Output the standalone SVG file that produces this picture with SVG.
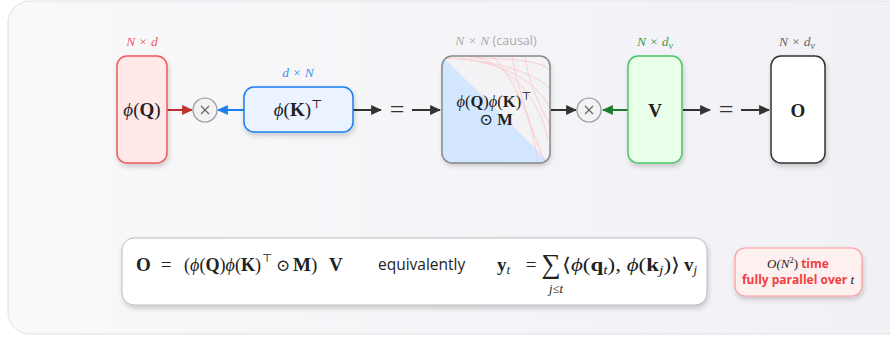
<svg xmlns="http://www.w3.org/2000/svg" width="890" height="337" viewBox="0 0 890 337">
<defs>
<linearGradient id="bg" x1="0" y1="0" x2="1" y2="0">
<stop offset="0" stop-color="#f9f9fb"/><stop offset="1" stop-color="#f1f0f5"/>
</linearGradient>
<filter id="sh" x="-20%" y="-20%" width="140%" height="150%">
<feDropShadow dx="1" dy="3" stdDeviation="2.5" flood-color="#000" flood-opacity="0.18"/>
</filter>
<clipPath id="mclip"><rect x="442" y="56" width="108" height="107" rx="10"/></clipPath>
<marker id="aDark" viewBox="0 0 10 10" refX="9" refY="5" markerWidth="11" markerHeight="11" markerUnits="userSpaceOnUse" orient="auto"><path d="M0,0.5 L10,5 L0,9.5 z" fill="#333"/></marker>
<marker id="aRed" viewBox="0 0 10 10" refX="9" refY="5" markerWidth="11" markerHeight="11" markerUnits="userSpaceOnUse" orient="auto"><path d="M0,0.5 L10,5 L0,9.5 z" fill="#c0302a"/></marker>
<marker id="aBlue" viewBox="0 0 10 10" refX="9" refY="5" markerWidth="11" markerHeight="11" markerUnits="userSpaceOnUse" orient="auto"><path d="M0,0.5 L10,5 L0,9.5 z" fill="#1a7ff0"/></marker>
<marker id="aGreen" viewBox="0 0 10 10" refX="9" refY="5" markerWidth="11" markerHeight="11" markerUnits="userSpaceOnUse" orient="auto"><path d="M0,0.5 L10,5 L0,9.5 z" fill="#1e7a2e"/></marker>
</defs>
<style>
.m{font-family:"Liberation Serif","DejaVu Serif",serif;fill:#222}
.b{font-weight:bold}
.i{font-style:italic}
.dim{font-family:"Liberation Serif","DejaVu Serif",serif;font-style:italic;font-size:13.5px;text-anchor:middle}
.sans{font-family:"Open Sans","Liberation Sans",sans-serif}
.ln{stroke-width:2;fill:none}
.eq{font-family:"Liberation Serif",serif;font-size:26px;fill:#333;text-anchor:middle}
.op{fill:#f2f2f5;stroke:#999;stroke-width:1.2}
.opx{stroke:#666;stroke-width:1.2}
</style>
<rect x="8" y="1" width="900" height="333" rx="22" fill="url(#bg)" stroke="#e0e0e4" stroke-width="1"/>

<g id="connectors">
<line class="ln" x1="167" y1="110" x2="192" y2="110" stroke="#c0302a" marker-end="url(#aRed)"/>
<line class="ln" x1="244" y1="110" x2="218" y2="110" stroke="#1a7ff0" marker-end="url(#aBlue)"/>
<line class="ln" x1="353" y1="110" x2="381" y2="110" stroke="#333" marker-end="url(#aDark)"/>
<text class="eq" x="397" y="118">=</text>
<line class="ln" x1="412" y1="110" x2="440" y2="110" stroke="#333" marker-end="url(#aDark)"/>
<line class="ln" x1="551" y1="110" x2="576" y2="110" stroke="#333" marker-end="url(#aDark)"/>
<line class="ln" x1="628" y1="110" x2="603" y2="110" stroke="#1e7a2e" marker-end="url(#aGreen)"/>
<line class="ln" x1="683" y1="110" x2="710" y2="110" stroke="#333" marker-end="url(#aDark)"/>
<text class="eq" x="726" y="118">=</text>
<line class="ln" x1="741" y1="110" x2="769" y2="110" stroke="#333" marker-end="url(#aDark)"/>
</g>

<g id="op1">
<circle class="op" cx="205" cy="110" r="12"/>
<path class="opx" d="M201 106 L209 114 M209 106 L201 114"/>
</g>
<g id="op2">
<circle class="op" cx="589" cy="110" r="12"/>
<path class="opx" d="M585 106 L593 114 M593 106 L585 114"/>
</g>

<g id="Q">
<text class="dim" x="142" y="46" fill="#f05a5a">N × d</text>
<rect x="117" y="56" width="50" height="107" rx="10" fill="#ffe8e8" stroke="#f05a5a" stroke-width="1.5" filter="url(#sh)"/>
<text class="m" x="142" y="116" font-size="19" text-anchor="middle"><tspan class="i">ϕ</tspan>(<tspan class="b">Q</tspan>)</text>
</g>

<g id="K">
<text class="dim" x="298" y="77" fill="#3a8ef0">d × N</text>
<rect x="244" y="87" width="109" height="45" rx="10" fill="#eaf3ff" stroke="#1a7ff0" stroke-width="1.5" filter="url(#sh)"/>
<text class="m" x="298" y="116" font-size="19" text-anchor="middle"><tspan class="i">ϕ</tspan>(<tspan class="b">K</tspan>)<tspan dy="-8" font-size="12">⊤</tspan></text>
</g>

<g id="A">
<text class="dim" x="496" y="45" fill="#aaa">N × N <tspan class="sans" font-style="normal" font-size="12.5">(causal)</tspan></text>
<rect x="442" y="56" width="108" height="107" rx="10" fill="#f3f3f6" filter="url(#sh)"/>
<g clip-path="url(#mclip)">
<path d="M442 56 L550 163 L442 163 Z" fill="#d2e6ff"/>
<g stroke="#fbc9c9" stroke-width="0.9" fill="none">
<path d="M446 58 Q 520 62 550 88"/>
<path d="M460 58 Q 530 68 550 108"/>
<path d="M478 57 Q 536 80 548 140"/>
<path d="M494 57 Q 530 100 538 163"/>
<path d="M512 57 Q 520 100 545 163"/>
<path d="M470 58 Q 540 58 550 70"/>
<path d="M525 57 Q 530 90 550 125"/>
</g>
</g>
<rect x="442" y="56" width="108" height="107" rx="10" fill="none" stroke="#888" stroke-width="1.5"/>
<text class="m" x="494" y="107" font-size="16.5" text-anchor="middle"><tspan class="i">ϕ</tspan>(<tspan class="b">Q</tspan>)<tspan class="i">ϕ</tspan>(<tspan class="b">K</tspan>)<tspan dy="-7" font-size="11">⊤</tspan></text>
<text class="m" x="496" y="125" font-size="16.5" text-anchor="middle">⊙ <tspan class="b">M</tspan></text>
</g>

<g id="V">
<text class="dim" x="655" y="46" fill="#3a9a4a">N × d<tspan dy="3" font-size="10">v</tspan></text>
<rect x="628" y="56" width="54" height="107" rx="10" fill="#eaffea" stroke="#4cc466" stroke-width="1.5" filter="url(#sh)"/>
<text class="m b" x="655" y="117" font-size="19" text-anchor="middle">V</text>
</g>

<g id="O">
<text class="dim" x="797" y="46" fill="#666">N × d<tspan dy="3" font-size="10">v</tspan></text>
<rect x="771" y="56" width="54" height="107" rx="10" fill="#ffffff" stroke="#333" stroke-width="1.5" filter="url(#sh)"/>
<text class="m b" x="798" y="117" font-size="19" text-anchor="middle">O</text>
</g>

<g id="formula">
<rect x="122" y="238" width="585" height="67" rx="12" fill="#ffffff" stroke="#bbb" stroke-width="1" filter="url(#sh)"/>
<text class="m b" x="136" y="271" font-size="19">O</text>
<text class="m" x="166" y="271" font-size="19" text-anchor="middle">=</text>
<text class="m" x="184" y="271" font-size="19" textLength="77" lengthAdjust="spacingAndGlyphs">(<tspan class="i">ϕ</tspan>(<tspan class="b">Q</tspan>)<tspan class="i">ϕ</tspan>(<tspan class="b">K</tspan>)</text>
<text class="m" x="262" y="262" font-size="11">⊤</text>
<text class="m" x="283" y="271" font-size="17" text-anchor="middle">⊙</text>
<text class="m" x="293" y="271" font-size="19"><tspan class="b">M</tspan>)</text>
<text class="m b" x="329" y="271" font-size="19">V</text>
<text class="sans" x="378" y="270" font-size="15.5" fill="#222">equivalently</text>
<text class="m" x="497" y="271" font-size="19"><tspan class="b">y</tspan><tspan class="i" font-size="13" dy="3">t</tspan></text>
<text class="m" x="531" y="271" font-size="19" text-anchor="middle">=</text>
<text class="m" x="551" y="273" font-size="27" text-anchor="middle">∑</text>
<text class="m i" x="556" y="293" font-size="12.5" text-anchor="middle">j≤t</text>
<text class="m" x="562" y="271" font-size="19" textLength="118" lengthAdjust="spacingAndGlyphs">⟨<tspan class="i">ϕ</tspan>(<tspan class="b">q</tspan><tspan class="i" font-size="13" dy="3">t</tspan><tspan dy="-3">), </tspan><tspan class="i">ϕ</tspan>(<tspan class="b">k</tspan><tspan class="i" font-size="13" dy="3">j</tspan><tspan dy="-3">)⟩</tspan></text>
<text class="m" x="684" y="271" font-size="19"><tspan class="b">v</tspan><tspan class="i" font-size="13" dy="3">j</tspan></text>
</g>

<g id="cost">
<rect x="735" y="248" width="127" height="48" rx="10" fill="#fff0f0" stroke="#ff9a9a" stroke-width="1.2" filter="url(#sh)"/>
<text x="798" y="268" font-size="12" text-anchor="middle" fill="#f04040" class="sans" font-weight="bold"><tspan class="m i" font-weight="normal" fill="#f04040" font-size="13">O(N</tspan><tspan class="m" font-weight="normal" fill="#f04040" font-size="8.5" dy="-5">2</tspan><tspan class="m" font-weight="normal" fill="#f04040" font-size="13" dy="5">)</tspan> time</text>
<text x="798" y="284" font-size="12" text-anchor="middle" fill="#f04040" class="sans" font-weight="bold">fully parallel over <tspan class="m i" font-weight="normal" fill="#f04040" font-size="13">t</tspan></text>
</g>
</svg>
